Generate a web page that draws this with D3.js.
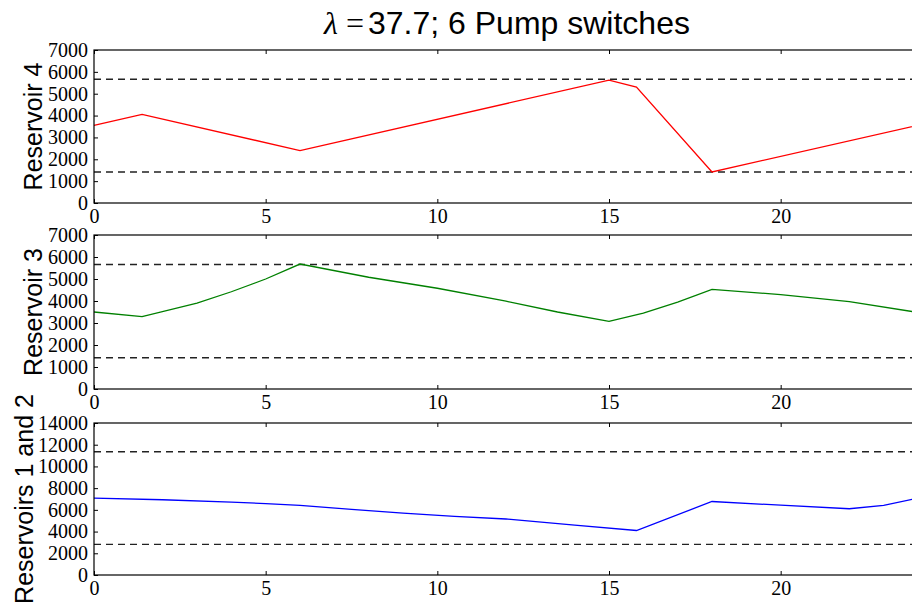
<!DOCTYPE html>
<html>
<head>
<meta charset="utf-8">
<script src="https://cdn.jsdelivr.net/npm/d3@7"></script>
<style>
  body { margin: 0; background: #fff; }
  .tick text { font-family: "Liberation Serif", "DejaVu Serif", serif; font-size: 20px; fill: #000; }
  .ylab { font-family: "Liberation Sans", Arial, sans-serif; font-size: 25px; fill: #000; }
</style>
</head>
<body>
<div id="chart"></div>
<script>
// Reservoir levels over the day (hours)
var res4Hours = [0, 1.4, 6, 15, 15.8, 18, 24];
var res4Levels = [3550, 4050, 2400, 5620, 5300, 1420, 3560];

var res3Hours = [0, 1.4, 3, 4, 5, 6, 8, 10, 12, 13.5, 15, 16, 17, 18, 20, 22, 24];
var res3Levels = [3500, 3290, 3900, 4420, 5000, 5680, 5080, 4580, 3990, 3500, 3070, 3450, 3950, 4530, 4290, 3970, 3480];

var res12Hours = [0, 2, 4, 5, 6, 7.5, 9, 10.5, 12, 14, 15.8, 18, 20, 22, 23, 24];
var res12Levels = [7080, 6930, 6720, 6580, 6420, 6050, 5700, 5400, 5160, 4600, 4100, 6770, 6430, 6100, 6420, 7080];

// lower / upper storage limits (dashed)
var res4Bounds = [1420, 5660];
var res3Bounds = [1420, 5660];
var res12Bounds = [2820, 11350];

var xTicks = [0, 5, 10, 15, 20];
var yTicksSmall = [0, 1000, 2000, 3000, 4000, 5000, 6000, 7000];
var yTicksBig = [0, 2000, 4000, 6000, 8000, 10000, 12000, 14000];

var width = 912, height = 612;

var svg = d3.select("#chart")
    .append("svg")
    .attr("width", width)
    .attr("height", height);

var x = d3.scaleLinear()
    .domain([0, 24])
    .range([94, 918]);

var panels = [
    {hours: res4Hours, levels: res4Levels, bounds: res4Bounds, max: 7000, ticks: yTicksSmall,
        top: 50, bottom: 203, colour: "#ff0000", label: "Reservoir 4", labelX: 42},
    {hours: res3Hours, levels: res3Levels, bounds: res3Bounds, max: 7000, ticks: yTicksSmall,
        top: 235, bottom: 389, colour: "#008000", label: "Reservoir 3", labelX: 42},
    {hours: res12Hours, levels: res12Levels, bounds: res12Bounds, max: 14000, ticks: yTicksBig,
        top: 423, bottom: 575, colour: "#0000ff", label: "Reservoirs 1 and 2", labelX: 33}
];

panels.forEach(function(p) {
    var y = d3.scaleLinear()
        .domain([0, p.max])
        .range([p.bottom, p.top]);

    var g = svg.append("g");

    // dashed limits
    g.selectAll("line.bound")
        .data(p.bounds)
        .enter()
        .append("line")
        .attr("class", "bound")
        .attr("x1", x(0))
        .attr("x2", x(24))
        .attr("y1", d => y(d))
        .attr("y2", d => y(d))
        .style("stroke", "#222")
        .style("stroke-width", 1.4)
        .style("stroke-dasharray", "7,5");

    // level line
    var line = d3.line()
        .x((d, i) => x(p.hours[i]))
        .y(d => y(d));

    g.append("path")
        .datum(p.levels)
        .attr("d", line)
        .style("fill", "none")
        .style("stroke", p.colour)
        .style("stroke-width", 1.3);

    // axes, ticks pointing inwards
    g.append("g")
        .attr("transform", "translate(0," + p.bottom + ")")
        .call(d3.axisBottom(x).tickValues(xTicks).tickFormat(d3.format("d"))
            .tickSizeInner(-4).tickSizeOuter(0).tickPadding(6));

    g.append("g")
        .attr("transform", "translate(0," + p.top + ")")
        .call(d3.axisTop(x).tickValues(xTicks).tickFormat("")
            .tickSizeInner(-4).tickSizeOuter(0));

    g.append("g")
        .attr("transform", "translate(" + x(0) + ",0)")
        .call(d3.axisLeft(y).tickValues(p.ticks).tickFormat(d3.format("d"))
            .tickSizeInner(-4).tickSizeOuter(0).tickPadding(6));

    g.selectAll(".domain").remove();
    g.selectAll(".tick line").style("stroke", "#000");

    // frame
    g.append("rect")
        .attr("x", x(0))
        .attr("y", p.top)
        .attr("width", x(24) - x(0))
        .attr("height", p.bottom - p.top)
        .style("fill", "none")
        .style("stroke", "#000")
        .style("stroke-width", 1.2);

    g.append("text")
        .attr("class", "ylab")
        .attr("transform", "translate(" + p.labelX + "," + ((p.top + p.bottom) / 2) + ") rotate(-90)")
        .style("text-anchor", "middle")
        .text(p.label);
});

// title
var title = svg.append("text")
    .attr("x", 507)
    .attr("y", 33.5)
    .style("text-anchor", "middle")
    .style("font-size", "32px")
    .style("fill", "#000");
title.append("tspan")
    .style("font-family", "'Liberation Serif', serif")
    .style("font-style", "italic")
    .text("λ");
title.append("tspan")
    .attr("dx", 8)
    .style("font-family", "'Liberation Serif', serif")
    .text("=");
title.append("tspan")
    .attr("dx", 4)
    .style("font-family", "'Liberation Sans', Arial, sans-serif")
    .text("37.7; 6 Pump switches");
</script>
</body>
</html>
